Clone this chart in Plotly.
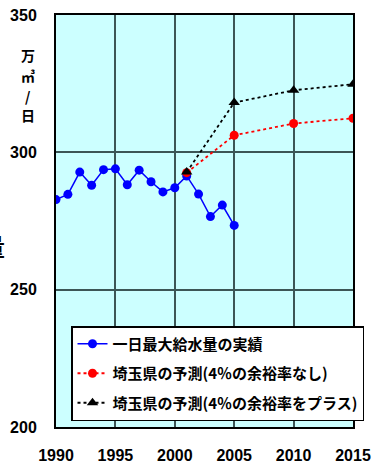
import plotly.graph_objects as go

# Actual daily maximum water supply (10,000 m3/day)
actual_years = [1990, 1991, 1992, 1993, 1994, 1995, 1996, 1997, 1998, 1999,
                2000, 2001, 2002, 2003, 2004, 2005]
actual_values = [282.8, 284.7, 292.8, 288.0, 293.7, 294.0, 288.2, 293.5, 289.3,
                 285.6, 287.1, 291.4, 284.8, 276.6, 280.8, 273.4]

# Prefecture forecasts
forecast_years = [2001, 2005, 2010, 2015]
forecast_plain = [292.6, 306.2, 310.5, 312.4]
forecast_margin = [292.8, 318.1, 322.6, 324.8]

x_ticks = [1990, 1995, 2000, 2005, 2010, 2015]
y_ticks = [200, 250, 300, 350]

names = ["一日最大給水量の実績",
         "埼玉県の予測(4％の余裕率なし)",
         "埼玉県の予測(4％の余裕率をプラス)"]

FONT = "Liberation Sans, Arial, Noto Sans CJK JP, sans-serif"
JP = "Noto Sans CJK JP, sans-serif"
GRID = "#3c5656"

L, T, W, H = 56, 15, 297, 412

fig = go.Figure()
fig.add_trace(go.Scatter(
    x=actual_years, y=actual_values, mode="lines+markers", name=names[0],
    line=dict(color="#0000ff", width=1.5),
    marker=dict(color="#0000ff", size=9, symbol="circle"),
    legendgroup="a"))
fig.add_trace(go.Scatter(
    x=forecast_years, y=forecast_plain, mode="lines+markers", name=names[1],
    line=dict(color="#ff0000", width=1.8, dash="dot"),
    marker=dict(color="#ff0000", size=9, symbol="circle"),
    legendgroup="b"))
fig.add_trace(go.Scatter(
    x=forecast_years, y=forecast_margin, mode="lines+markers", name=names[2],
    line=dict(color="#000000", width=1.8, dash="dot"),
    marker=dict(color="#000000", size=10, symbol="triangle-up"),
    legendgroup="c"))

fig.update_layout(
    width=373, height=463,
    margin=dict(l=L, r=373 - L - W, t=T, b=463 - T - H, autoexpand=False),
    paper_bgcolor="white",
    plot_bgcolor="#ccffff",
    font=dict(family=FONT, size=14, color="black"),
    showlegend=True,
    legend=dict(
        x=(71 - L) / W, y=(T + H - 326) / H, xanchor="left", yanchor="top",
        bgcolor="white", bordercolor="black", borderwidth=1.5,
        font=dict(family=JP, size=15, color="black", weight="bold"),
        tracegroupgap=7, itemwidth=30,
    ),
    xaxis=dict(
        range=[1990, 2015], tickvals=x_ticks, ticktext=[str(v) for v in x_ticks],
        showgrid=True, gridcolor=GRID, gridwidth=1.5,
        showline=True, linecolor="black", linewidth=2, mirror=True,
        ticks="outside", ticklen=13, tickcolor="rgba(0,0,0,0)",
        tickfont=dict(family=FONT, size=16, weight="bold"),
        zeroline=False, automargin=False,
    ),
    yaxis=dict(
        range=[200, 350], tickvals=y_ticks, ticktext=[str(v) for v in y_ticks],
        showgrid=True, gridcolor=GRID, gridwidth=1.5,
        showline=True, linecolor="black", linewidth=2, mirror=True,
        ticks="outside", ticklen=14, tickcolor="rgba(0,0,0,0)",
        tickfont=dict(family=FONT, size=16, weight="bold"),
        zeroline=False, automargin=False,
    ),
)

# Unit label, stacked vertically beside the axis
unit_chars = ["万", "㎥", "/", "日"]
unit_y = [55, 76, 96, 115]
for ch, py in zip(unit_chars, unit_y):
    fig.add_annotation(
        text=ch, xref="paper", yref="paper",
        x=(28 - L) / W, y=1 - (py - T) / H,
        showarrow=False, xanchor="center", yanchor="middle",
        font=dict(family=JP, size=14, weight="bold"))

# Edge of the axis title, cut off at the left border
fig.add_annotation(
    text="量", xref="paper", yref="paper",
    x=(7 - L) / W, y=1 - (245 - T) / H,
    showarrow=False, xanchor="right", yanchor="middle",
    font=dict(family=JP, size=24, weight="bold"))

fig.write_html("out.html")
